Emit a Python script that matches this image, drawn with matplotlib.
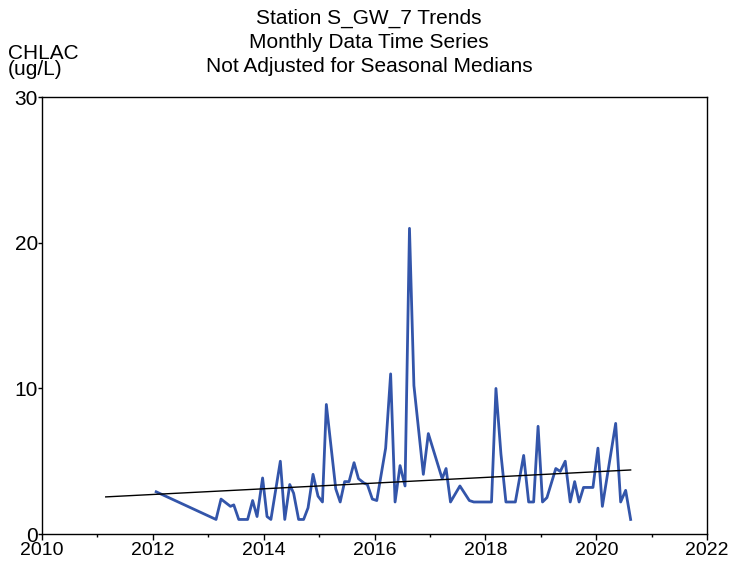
import matplotlib.pyplot as plt
from matplotlib.ticker import MultipleLocator
from matplotlib import font_manager

# monthly CHLAC values, decimal year vs ug/L
years = [2012.06, 2013.14, 2013.23, 2013.40, 2013.46, 2013.55, 2013.71, 2013.80, 2013.88, 2013.98,
         2014.06, 2014.13, 2014.30, 2014.38, 2014.47, 2014.54, 2014.63, 2014.72, 2014.80, 2014.89,
         2014.98, 2015.06, 2015.13, 2015.30, 2015.38, 2015.46, 2015.54, 2015.63, 2015.71, 2015.81,
         2015.87, 2015.96, 2016.04, 2016.20, 2016.29, 2016.37, 2016.46, 2016.55, 2016.63, 2016.71,
         2016.88, 2016.97, 2017.22, 2017.29, 2017.37, 2017.54, 2017.71, 2017.79, 2018.11, 2018.19,
         2018.28, 2018.37, 2018.54, 2018.69, 2018.78, 2018.87, 2018.95, 2019.03, 2019.11, 2019.27,
         2019.35, 2019.44, 2019.53, 2019.61, 2019.69, 2019.77, 2019.94, 2020.03, 2020.11, 2020.35,
         2020.44, 2020.53, 2020.62]
chlac = [2.9, 1.0, 2.4, 1.9, 2.0, 1.0, 1.0, 2.3, 1.2, 3.85,
         1.2, 1.0, 5.0, 1.0, 3.4, 2.8, 1.0, 1.0, 1.8, 4.1,
         2.6, 2.2, 8.9, 3.1, 2.2, 3.6, 3.6, 4.9, 3.8, 3.5,
         3.4, 2.4, 2.3, 5.9, 11.0, 2.2, 4.7, 3.3, 21.0, 10.2,
         4.1, 6.9, 3.8, 4.5, 2.2, 3.3, 2.3, 2.2, 2.2, 10.0,
         5.5, 2.2, 2.2, 5.4, 2.2, 2.2, 7.4, 2.2, 2.5, 4.5,
         4.3, 5.0, 2.2, 3.6, 2.2, 3.2, 3.2, 5.9, 1.9, 7.6,
         2.2, 3.0, 1.0]

trend_x = [2011.15, 2020.62]
trend_y = [2.55, 4.4]

names = set(f.name for f in font_manager.fontManager.ttflist)
if 'Liberation Sans Narrow' in names:
    plt.rcParams['font.family'] = ['Liberation Sans Narrow', 'DejaVu Sans']
else:
    plt.rcParams['font.family'] = ['Liberation Sans', 'DejaVu Sans']

fig = plt.figure(figsize=(7.29, 5.62), dpi=100)
ax = fig.add_axes([0.0576, 0.0498, 0.9124, 0.777])

ax.plot(years, chlac, color='#3355aa', linewidth=2.0)
ax.plot(trend_x, trend_y, color='black', linewidth=1.0)

ax.set_xlim(2010, 2022)
ax.set_ylim(0, 30)
ax.xaxis.set_major_locator(MultipleLocator(2))
ax.xaxis.set_minor_locator(MultipleLocator(1))
ax.set_yticks([0, 10, 20, 30])
ax.tick_params(axis='both', which='major', labelsize=15, width=1)
ax.tick_params(axis='x', which='major', length=4, pad=1.5, labelsize=14)
ax.tick_params(axis='x', which='minor', length=2.5, width=1)
ax.tick_params(axis='y', length=3, pad=0)
for s in ax.spines.values():
    s.set_linewidth(1.0)

fig.text(0.506, 0.968, 'Station S_GW_7 Trends', ha='center', va='center', fontsize=15)
fig.text(0.506, 0.925, 'Monthly Data Time Series', ha='center', va='center', fontsize=15)
fig.text(0.506, 0.882, 'Not Adjusted for Seasonal Medians', ha='center', va='center', fontsize=15)
fig.text(0.011, 0.891, 'CHLAC\n(ug/L)', ha='left', va='center', fontsize=15, linespacing=0.8)

fig.savefig('out.png', dpi=100)
